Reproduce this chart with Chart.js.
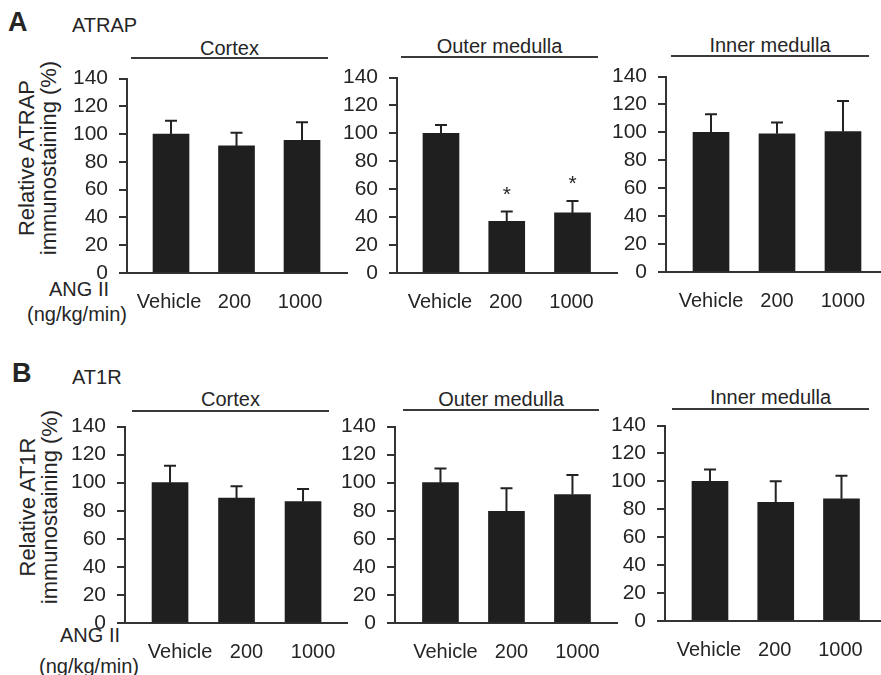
<!DOCTYPE html>
<html>
<head>
<meta charset="utf-8">
<script src="https://cdn.jsdelivr.net/npm/chart.js@4.4.1/dist/chart.umd.min.js"></script>
<style>
  html, body { margin: 0; padding: 0; background: #fff; overflow: hidden; }
  body { width: 881px; height: 675px; position: relative; font-family: "Liberation Sans", Arial, sans-serif; color: #252525; }
  canvas { position: absolute; }
  .txt { position: absolute; white-space: nowrap; font-size: 20px; line-height: 20px; }
  .letter { position: absolute; font-weight: bold; font-size: 27px; line-height: 27px; }
  .region { position: absolute; text-align: center; white-space: nowrap; font-size: 20px; line-height: 20px; border-bottom: 2px solid #3a3a3a; }
  .ytitle { position: absolute; width: 240px; height: 44px; font-size: 22px; line-height: 22px; text-align: center; white-space: nowrap; transform: rotate(-90deg); }
  .dose { position: absolute; width: 140px; text-align: center; font-size: 20px; line-height: 20px; white-space: nowrap; }
</style>
</head>
<body>

<div class="letter" style="left:8px; top:9px;">A</div>
<div class="txt" style="left:72px; top:15px;">ATRAP</div>
<div class="letter" style="left:12px; top:360px;">B</div>
<div class="txt" style="left:72px; top:367px;">AT1R</div>

<div class="ytitle" style="left:-82px; top:136px;">Relative ATRAP<br>immunostaining (%)</div>
<div class="ytitle" style="left:-81px; top:485px;">Relative AT1R<br>immunostaining (%)</div>

<div class="dose" style="left:9px; top:279px;">ANG II</div>
<div class="dose" style="left:7px; top:304px;">(ng/kg/min)</div>
<div class="dose" style="left:20px; top:625px;">ANG II</div>
<div class="dose" style="left:19px; top:656px;">(ng/kg/min)</div>

<div class="region" style="left:131px; width:197px; top:38px; height:19px;">Cortex</div>
<div class="region" style="left:401px; width:197px; top:36px; height:20px;">Outer medulla</div>
<div class="region" style="left:671px; width:198px; top:35px; height:20px;">Inner medulla</div>
<div class="region" style="left:132px; width:197px; top:389px; height:21px;">Cortex</div>
<div class="region" style="left:403px; width:196px; top:389px; height:20px;">Outer medulla</div>
<div class="region" style="left:672px; width:197px; top:387px; height:21px;">Inner medulla</div>

<script>
// dose groups on the x axis
const doses = ['Vehicle', '200', '1000'];
const yTickValues = [0, 20, 40, 60, 80, 100, 120, 140];

// A: ATRAP immunostaining (% of vehicle), mean and upper SEM
const atrapCortex = [100, 91.5, 95.5];
const atrapCortexSem = [9.5, 9.5, 13];
const atrapOuter = [100, 37, 43];
const atrapOuterSem = [6, 7, 8.5];
const atrapInner = [100, 99, 100.5];
const atrapInnerSem = [13, 8, 22];
const atrapOuterSig = [false, true, true];

// B: AT1R immunostaining
const at1rCortex = [100, 89, 86.5];
const at1rCortexSem = [12, 8.5, 9];
const at1rOuter = [100, 79.5, 91.5];
const at1rOuterSem = [10, 16.5, 14];
const at1rInner = [100, 85, 87.5];
const at1rInnerSem = [8.5, 15, 16.5];
const noSig = [false, false, false];

const family = '"Liberation Sans", Arial, sans-serif';
const AXW = 70, PADT = 14, XH = 44;

// draws the upper error whisker and the significance star
const errorBars = {
    id: 'errorBars',
    afterDatasetsDraw(chart, args, opts) {
        const ctx = chart.ctx;
        const x = chart.scales.x, y = chart.scales.y;
        const pts = chart.data.datasets[0].data;
        ctx.save();
        ctx.strokeStyle = '#222';
        ctx.lineWidth = 2;
        ctx.fillStyle = '#252525';
        pts.forEach((pt, i) => {
            const cx = x.getPixelForValue(pt.x);
            const yBar = y.getPixelForValue(pt.y);
            const yTop = y.getPixelForValue(pt.y + opts.sem[i]);
            ctx.beginPath();
            ctx.moveTo(cx, yBar);
            ctx.lineTo(cx, yTop);
            ctx.moveTo(cx - 6, yTop);
            ctx.lineTo(cx + 6, yTop);
            ctx.stroke();
            if (opts.sig[i]) {
                ctx.font = '21px ' + family;
                ctx.textAlign = 'center';
                ctx.textBaseline = 'alphabetic';
                ctx.fillText('*', cx, yTop - 11);
            }
        });
        ctx.restore();
    }
};

const panels = [
    { vals: atrapCortex, sem: atrapCortexSem, sig: noSig, left: 127, right: 348, top: 71, bottom: 273, xMin: 0.328, xMax: 3.702, labelOffset: -2 },
    { vals: atrapOuter, sem: atrapOuterSem, sig: atrapOuterSig, left: 397, right: 618, top: 70, bottom: 273, xMin: 0.331, xMax: 3.692, labelOffset: -1 },
    { vals: atrapInner, sem: atrapInnerSem, sig: noSig, left: 666, right: 881, top: 69, bottom: 272, xMin: 0.318, xMax: 3.576, labelOffset: 0 },
    { vals: at1rCortex, sem: at1rCortexSem, sig: noSig, left: 125, right: 348, top: 419, bottom: 623, xMin: 0.323, xMax: 3.676, labelOffset: 10 },
    { vals: at1rOuter, sem: at1rOuterSem, sig: noSig, left: 395, right: 618, top: 419, bottom: 623, xMin: 0.311, xMax: 3.69, labelOffset: 5 },
    { vals: at1rInner, sem: at1rInnerSem, sig: noSig, left: 665, right: 881, top: 418, bottom: 621, xMin: 0.316, xMax: 3.601, labelOffset: -1 }
];

panels.forEach(p => {
    const cv = document.createElement('canvas');
    cv.width = AXW + (p.right - p.left);
    cv.height = PADT + (p.bottom - p.top) + XH;
    cv.style.left = (p.left - AXW) + 'px';
    cv.style.top = (p.top - PADT) + 'px';
    document.body.appendChild(cv);

    new Chart(cv.getContext('2d'), {
        type: 'bar',
        data: {
            datasets: [{
                data: p.vals.map((v, i) => ({ x: i + 1, y: v })),
                backgroundColor: '#1f1f1f',
                borderWidth: 0,
                barThickness: 36
            }]
        },
        options: {
            responsive: false,
            animation: false,
            layout: { padding: { top: PADT, left: 0, right: 0, bottom: 0 } },
            plugins: {
                legend: { display: false },
                tooltip: { enabled: false },
                errorBars: { sem: p.sem, sig: p.sig }
            },
            scales: {
                x: {
                    type: 'linear',
                    offset: false,
                    min: p.xMin,
                    max: p.xMax,
                    grid: { display: false },
                    border: { color: '#333', width: 2 },
                    afterBuildTicks: s => { s.ticks = doses.map((d, i) => ({ value: i + 1 })); },
                    afterFit: s => { s.height = XH; },
                    ticks: {
                        callback: v => doses[v - 1],
                        color: '#252525',
                        font: { family: family, size: 20 },
                        padding: 9,
                        labelOffset: p.labelOffset,
                        maxRotation: 0,
                        autoSkip: false
                    }
                },
                y: {
                    min: 0,
                    max: 140,
                    afterBuildTicks: s => { s.ticks = yTickValues.map(v => ({ value: v })); },
                    afterFit: s => { s.width = AXW; },
                    grid: { drawOnChartArea: false, drawTicks: true, tickLength: 8, color: '#333', lineWidth: 2 },
                    border: { color: '#333', width: 2 },
                    ticks: {
                        color: '#252525',
                        font: { family: family, size: 21, lineHeight: 1 },
                        padding: 11
                    }
                }
            }
        },
        plugins: [errorBars]
    });
});
</script>
</body>
</html>
